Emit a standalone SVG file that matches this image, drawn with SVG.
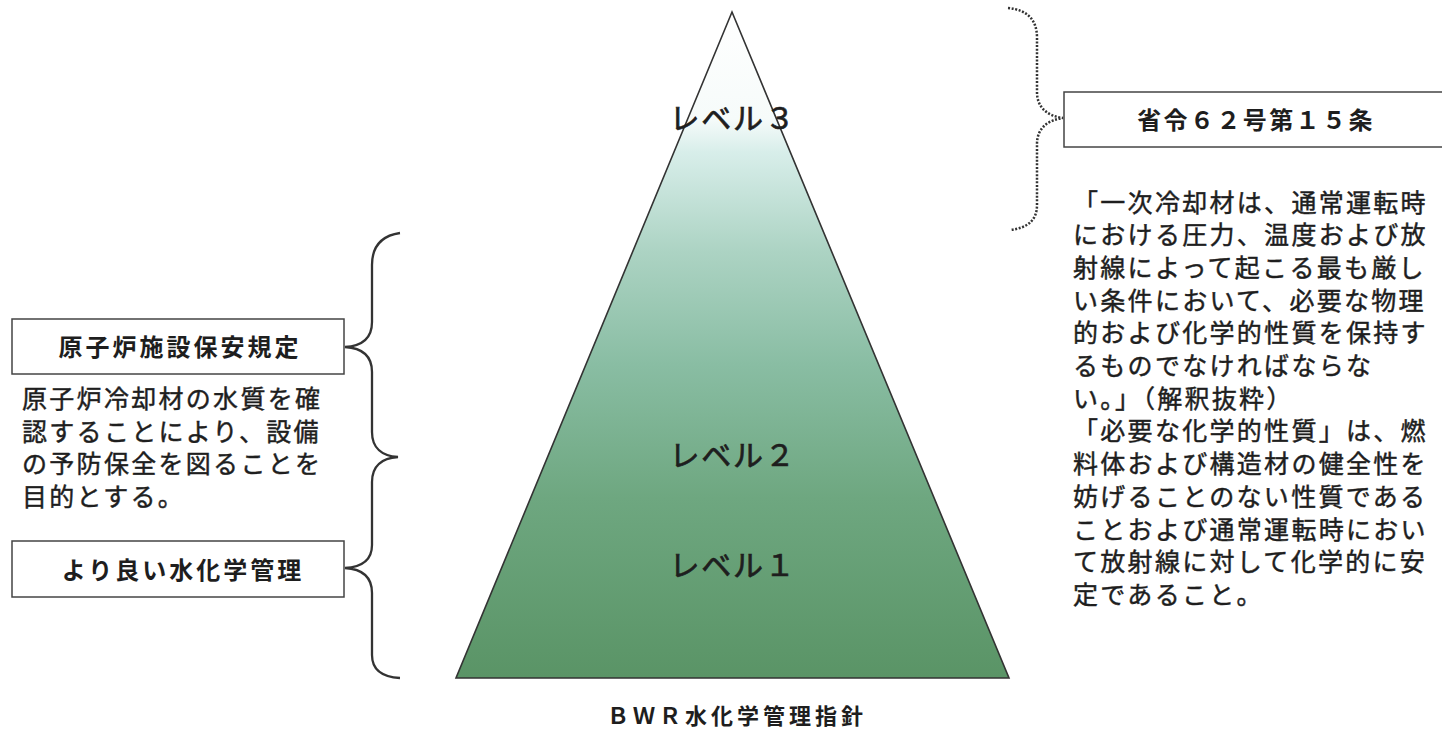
<svg xmlns="http://www.w3.org/2000/svg" width="1442" height="731" viewBox="0 0 1442 731">
<style>
text{font-family:"Noto Sans CJK JP","Noto Sans",sans-serif;fill:#1e1e1e}
.body{font-size:25px;letter-spacing:2.3px;stroke:#1e1e1e;stroke-width:0.45}
.title{font-size:24px;font-weight:bold;letter-spacing:3px;text-anchor:middle}
.level{font-size:30px;letter-spacing:1.8px;text-anchor:middle;stroke:#1e1e1e;stroke-width:0.7}
.box{fill:#fff;stroke:#444;stroke-width:1.5}
.brace{fill:none;stroke:#333;stroke-width:2.3}
.dotted{fill:none;stroke:#333;stroke-width:2.5;stroke-dasharray:2 1.6}
</style>
<defs>
<linearGradient id="g" gradientUnits="userSpaceOnUse" x1="0" y1="12" x2="0" y2="678">
<stop offset="0" stop-color="#ffffff"/>
<stop offset="0.16" stop-color="#f6fbfa"/>
<stop offset="0.21" stop-color="#d8eeea"/>
<stop offset="0.36" stop-color="#acd3c3"/>
<stop offset="0.53" stop-color="#89bda3"/>
<stop offset="0.73" stop-color="#6ea780"/>
<stop offset="1" stop-color="#5a9466"/>
</linearGradient>
</defs>
<rect width="1442" height="731" fill="#fff"/>
<g id="pyramid">
<polygon points="732,12 1009,678 456,678" fill="url(#g)" stroke="#333" stroke-width="1.6"/>
<text class="level" x="733" y="129">レベル３</text>
<text class="level" x="733" y="466">レベル２</text>
<text class="level" x="733" y="576">レベル１</text>
</g>
<g id="caption">
<text x="737" y="724" style="font-size:22px;font-weight:bold;letter-spacing:4px;text-anchor:middle">ＢＷＲ水化学管理指針</text>
</g>
<g id="connectors">
<path class="brace" d="M400,233 C380,236 372,248 372,265 L372,322 C372,338 362,346 345,347 C362,348 372,356 372,372 L372,432 C372,448 382,456 398,457 C382,458 372,466 372,482 L372,545 C372,560 362,567 345,568 C362,569 372,577 372,593 L372,655 C372,670 382,677 400,678"/>
<path class="dotted" d="M1008,8 C1028,10 1037,20 1037,38 L1037,92 C1037,108 1048,116 1063,118 C1048,120 1037,128 1037,144 L1037,205 C1037,220 1028,228 1010,230"/>
</g>
<g id="safety-rules">
<rect class="box" x="12" y="319" width="332" height="55"/>
<text class="title" x="180" y="356">原子炉施設保安規定</text>
<text class="body" x="22" y="408">
<tspan x="22">原子炉冷却材の水質を確</tspan>
<tspan x="22" dy="32.7">認することにより、設備</tspan>
<tspan x="22" dy="32.7">の予防保全を図ることを</tspan>
<tspan x="22" dy="32.7">目的とする。</tspan>
</text>
</g>
<g id="better-water">
<rect class="box" x="12" y="541" width="332" height="56"/>
<text class="title" x="183" y="579">より良い水化学管理</text>
</g>
<g id="ordinance">
<rect class="box" x="1064" y="92" width="390" height="55"/>
<text class="title" x="1256" y="129" style="letter-spacing:2.4px">省令６２号第１５条</text>
<text class="body" x="1073" y="211.5">
<tspan x="1073">「一次冷却材は、通常運転時</tspan>
<tspan x="1073" dy="32.7">における圧力、温度および放</tspan>
<tspan x="1073" dy="32.7">射線によって起こる最も厳し</tspan>
<tspan x="1073" dy="32.7">い条件において、必要な物理</tspan>
<tspan x="1073" dy="32.7">的および化学的性質を保持す</tspan>
<tspan x="1073" dy="32.7">るものでなければならな</tspan>
<tspan x="1073" dy="32.7">い。」（解釈抜粋）</tspan>
<tspan x="1073" dy="32.7">「必要な化学的性質」は、燃</tspan>
<tspan x="1073" dy="32.7">料体および構造材の健全性を</tspan>
<tspan x="1073" dy="32.7">妨げることのない性質である</tspan>
<tspan x="1073" dy="32.7">ことおよび通常運転時におい</tspan>
<tspan x="1073" dy="32.7">て放射線に対して化学的に安</tspan>
<tspan x="1073" dy="32.7">定であること。</tspan>
</text>
</g>
</svg>
